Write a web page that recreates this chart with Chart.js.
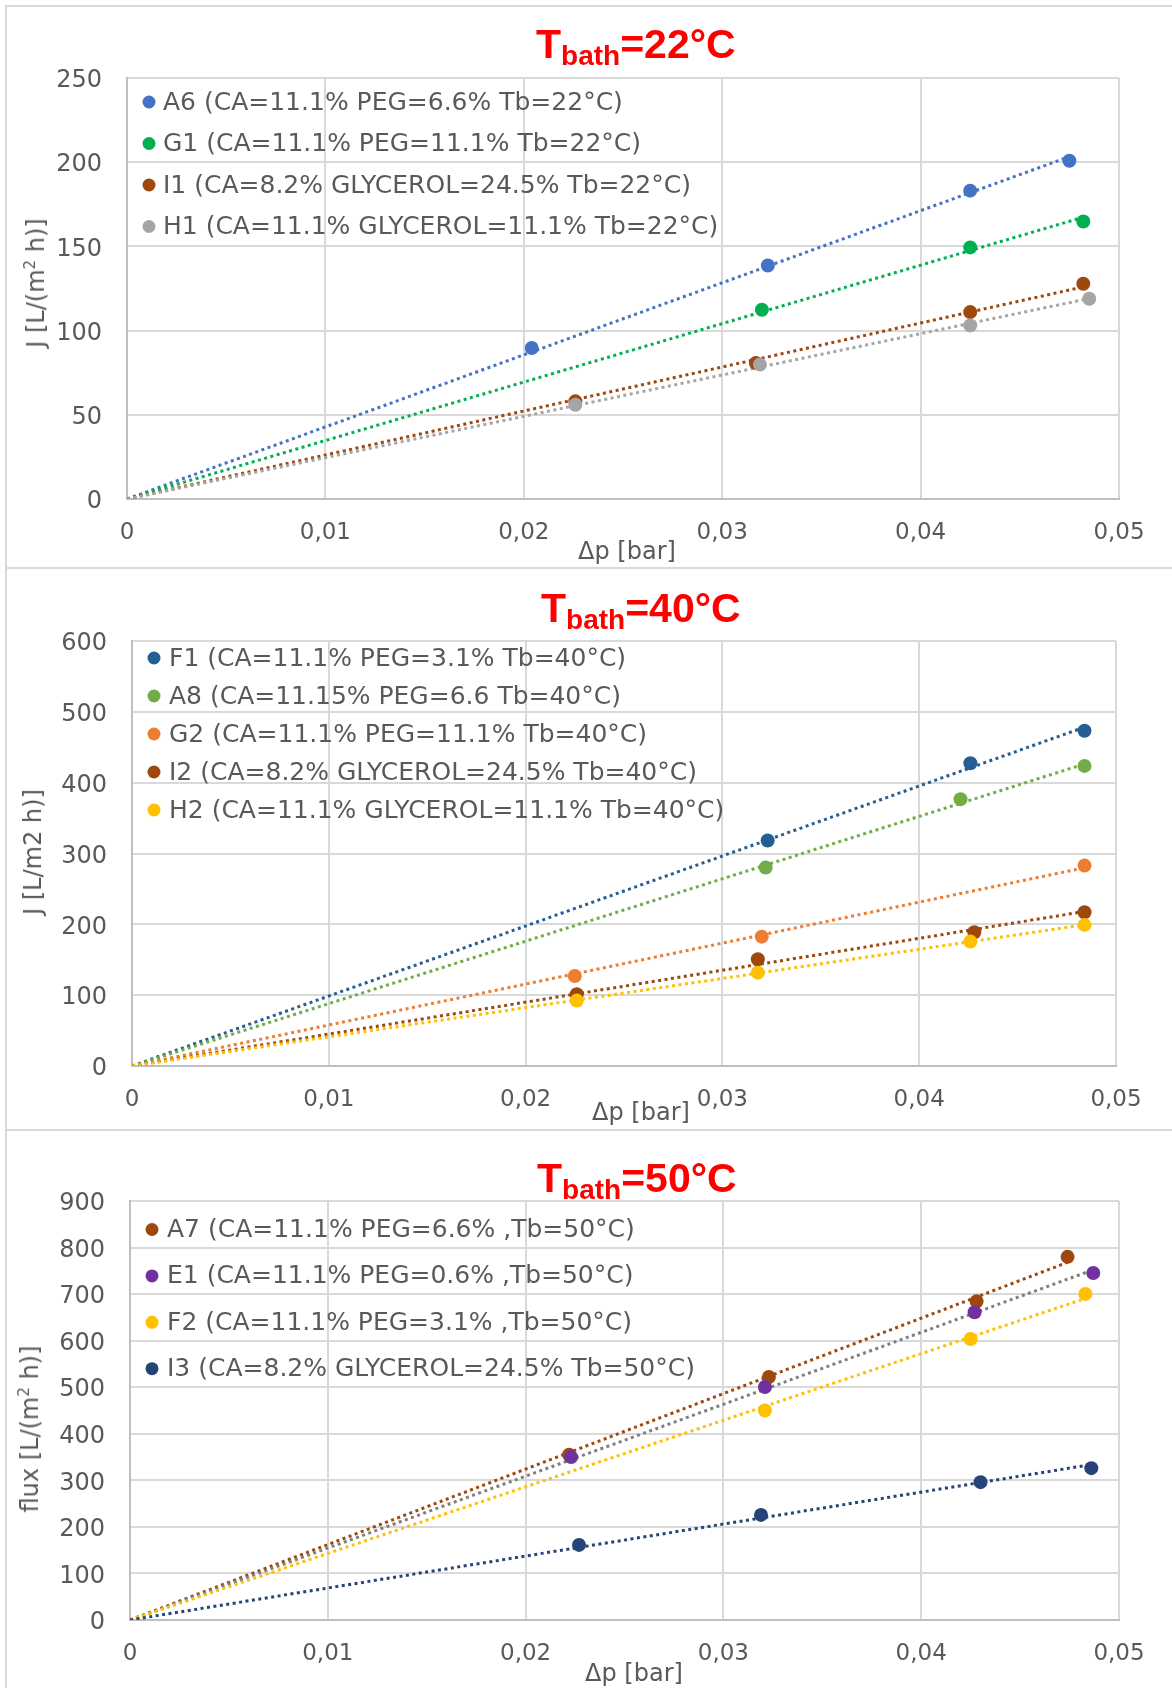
<!DOCTYPE html>
<html lang="en">
<head>
<meta charset="UTF-8">
<title>Flux vs Δp</title>
<script src="https://cdn.jsdelivr.net/npm/chart.js"></script>
<style>
  body { margin: 0; background: #fff; }
  .page { position: relative; width: 1172px; height: 1688px; overflow: hidden;
          font-family: "DejaVu Sans", sans-serif; color: #595959; }
  .page canvas { position: absolute; left: 0; }
  .rule { position: absolute; background: #d9d9d9; }
  .ttl { position: absolute; font-family: "Liberation Sans", Arial, sans-serif; font-weight: bold;
         font-size: 41px; line-height: 40px; color: #ff0000; white-space: nowrap; }
  .ttl span { font-size: 28px; line-height: 0; vertical-align: -7px; }
  .xt, .yt { position: absolute; font-size: 24px; line-height: 24px; white-space: nowrap;
             transform: translate(-50%, -50%); }
  .yt { transform: translate(-50%, -50%) rotate(-90deg); }
  .yt sup { font-size: 15px; line-height: 0; vertical-align: 9px; }
</style>
</head>
<body>
<div class="page">
  <div class="rule" style="left:5px;top:5px;width:1167px;height:2px"></div>
  <div class="rule" style="left:5px;top:5px;width:2px;height:1683px"></div>
  <div class="rule" style="left:5px;top:567px;width:1167px;height:2px"></div>
  <div class="rule" style="left:5px;top:1129px;width:1167px;height:2px"></div>

  <canvas id="c22" width="1172" height="568" style="top:0"></canvas>
  <canvas id="c40" width="1172" height="562" style="top:568px"></canvas>
  <canvas id="c50" width="1172" height="558" style="top:1130px"></canvas>

  <div class="ttl" style="left:536px;top:24px">T<span>bath</span>=22°C</div>
  <div class="ttl" style="left:541px;top:588px">T<span>bath</span>=40°C</div>
  <div class="ttl" style="left:537px;top:1158px">T<span>bath</span>=50°C</div>

  <div class="yt" style="left:36px;top:283px">J [L/(m<sup>2</sup> h)]</div>
  <div class="yt" style="left:33px;top:852px">J [L/m2 h)]</div>
  <div class="yt" style="left:30px;top:1429px">flux [L/(m<sup>2</sup> h)]</div>

  <div class="xt" style="left:627px;top:551px">Δp [bar]</div>
  <div class="xt" style="left:641px;top:1112px">Δp [bar]</div>
  <div class="xt" style="left:634px;top:1673px">Δp [bar]</div>
</div>

<script>
// ---- Tbath = 22°C ----
const labels22 = [
  'A6 (CA=11.1% PEG=6.6% Tb=22°C)',
  'G1 (CA=11.1% PEG=11.1% Tb=22°C)',
  'I1 (CA=8.2% GLYCEROL=24.5% Tb=22°C)',
  'H1 (CA=11.1% GLYCEROL=11.1% Tb=22°C)'
];
const A6_dp = [0.0204, 0.0323, 0.0425, 0.0475];
const A6_J  = [89.7, 138.7, 183.1, 200.9];
const G1_dp = [0.0320, 0.0425, 0.0482];
const G1_J  = [112.4, 149.4, 164.8];
const I1_dp = [0.0226, 0.0317, 0.0425, 0.0482];
const I1_J  = [58.0, 80.8, 111.0, 127.8];
const H1_dp = [0.0226, 0.0319, 0.0425, 0.0485];
const H1_J  = [56.0, 79.8, 103.1, 118.9];
const colors22 = ['#4472c4', '#00b050', '#9e480e', '#a5a5a5'];

// ---- Tbath = 40°C ----
const labels40 = [
  'F1 (CA=11.1% PEG=3.1% Tb=40°C)',
  'A8 (CA=11.15% PEG=6.6 Tb=40°C)',
  'G2 (CA=11.1% PEG=11.1% Tb=40°C)',
  'I2 (CA=8.2% GLYCEROL=24.5% Tb=40°C)',
  'H2 (CA=11.1% GLYCEROL=11.1% Tb=40°C)'
];
const F1_dp = [0.0323, 0.0426, 0.0484];
const F1_J  = [318.3, 427.5, 473.2];
const A8_dp = [0.0322, 0.0421, 0.0484];
const A8_J  = [280.1, 376.7, 423.7];
const G2_dp = [0.0225, 0.0320, 0.0484];
const G2_J  = [127.1, 182.6, 282.9];
const I2_dp = [0.0226, 0.0318, 0.0428, 0.0484];
const I2_J  = [101.2, 150.7, 188.8, 217.1];
const H2_dp = [0.0226, 0.0318, 0.0426, 0.0484];
const H2_J  = [92.3, 131.8, 175.6, 199.2];
const colors40 = ['#255e91', '#70ad47', '#ed7d31', '#9e480e', '#ffc000'];

// ---- Tbath = 50°C ----
const labels50 = [
  'A7 (CA=11.1% PEG=6.6% ,Tb=50°C)',
  'E1 (CA=11.1% PEG=0.6% ,Tb=50°C)',
  'F2 (CA=11.1% PEG=3.1% ,Tb=50°C)',
  'I3 (CA=8.2% GLYCEROL=24.5% Tb=50°C)'
];
const A7_dp = [0.0222, 0.0323, 0.0428, 0.0474];
const A7_J  = [354.8, 521.9, 684.5, 780.0];
const E1_dp = [0.0223, 0.0321, 0.0427, 0.0487];
const E1_J  = [349.9, 500.4, 660.9, 745.5];
const F2_dp = [0.0321, 0.0425, 0.0483];
const F2_J  = [450.1, 603.6, 700.4];
const I3_dp = [0.0227, 0.0319, 0.0430, 0.0486];
const I3_J  = [161.3, 225.8, 296.1, 326.2];
const colors50 = ['#9e480e', '#7030a0', '#ffc000', '#264478'];
const trend50 = ['#9e480e', '#7f7f7f', '#ffc000', '#264478'];

const dpTicks = [0, 0.01, 0.02, 0.03, 0.04, 0.05];

// linear trend forced through the origin, drawn from 0 to the last measured Δp
function originTrend(xs, ys) {
  let sxy = 0, sxx = 0;
  xs.forEach((x, i) => { sxy += x * ys[i]; sxx += x * x; });
  const k = sxy / sxx;
  const xMax = Math.max(...xs);
  return [{ x: 0, y: 0 }, { x: xMax, y: k * xMax }];
}

// legend drawn inside the plot, top-left corner
const floatLegend = {
  id: 'floatLegend',
  beforeDatasetsDraw(chart, args, o) {
    const { ctx, chartArea } = chart;
    ctx.save();
    ctx.font = o.font;
    ctx.textBaseline = 'middle';
    let row = 0;
    chart.data.datasets.forEach(ds => {
      if (!ds.label) return;
      const y = chartArea.top + o.top + row * o.gap;
      const x = chartArea.left + o.left;
      ctx.fillStyle = ds.backgroundColor;
      ctx.beginPath();
      ctx.arc(x, y, o.r, 0, Math.PI * 2);
      ctx.fill();
      ctx.fillStyle = '#595959';
      ctx.fillText(ds.label, x + o.textDx, y + 1);
      row++;
    });
    ctx.restore();
  }
};

function makeChart(id, labels, xs, ys, colors, lineColors, yMax, yStep, box, leg) {
  const datasets = [];
  labels.forEach((lab, i) => {
    datasets.push({
      label: lab,
      data: xs[i].map((x, j) => ({ x: x, y: ys[i][j] })),
      backgroundColor: colors[i],
      borderColor: colors[i],
      pointRadius: 7,
      pointBorderWidth: 0,
      showLine: false,
      order: 20 - i
    });
  });
  labels.forEach((lab, i) => {
    datasets.push({
      data: originTrend(xs[i], ys[i]),
      borderColor: lineColors[i],
      borderWidth: 3,
      borderDash: [3, 3.5],
      pointRadius: 0,
      showLine: true,
      order: 40 - i
    });
  });

  new Chart(document.getElementById(id), {
    type: 'scatter',
    data: { datasets: datasets },
    options: {
      responsive: false,
      animation: false,
      devicePixelRatio: 1,
      layout: { padding: { left: 0, top: box.top, right: box.right, bottom: 0 } },
      plugins: {
        legend: { display: false },
        tooltip: { enabled: false },
        floatLegend: leg
      },
      scales: {
        x: {
          type: 'linear', min: 0, max: 0.05,
          afterBuildTicks: s => { s.ticks = dpTicks.map(v => ({ value: v })); },
          afterFit: s => { s.height = box.xh; },
          grid: { color: '#d9d9d9', lineWidth: 2, drawTicks: false },
          border: { color: '#bfbfbf', width: 2 },
          ticks: {
            color: '#595959', font: { family: 'DejaVu Sans', size: 23 },
            padding: 20, maxRotation: 0, autoSkip: false,
            callback: v => v === 0 ? '0' : v.toFixed(2).replace('.', ',')
          }
        },
        y: {
          min: 0, max: yMax,
          afterFit: s => { s.width = box.yw; },
          grid: { color: '#d9d9d9', lineWidth: 2, drawTicks: false },
          border: { color: '#bfbfbf', width: 2 },
          ticks: {
            stepSize: yStep, color: '#595959',
            font: { family: 'DejaVu Sans', size: 24 }, padding: 25, labelOffset: 3
          }
        }
      }
    },
    plugins: [floatLegend]
  });
}

const legendFont = '25px "DejaVu Sans"';

makeChart('c22', labels22,
  [A6_dp, G1_dp, I1_dp, H1_dp], [A6_J, G1_J, I1_J, H1_J],
  colors22, colors22, 250, 50,
  { top: 78, right: 53, yw: 127, xh: 69 },
  { left: 22, top: 24, gap: 41.5, r: 6.5, textDx: 14, font: legendFont });

makeChart('c40', labels40,
  [F1_dp, A8_dp, G2_dp, I2_dp, H2_dp], [F1_J, A8_J, G2_J, I2_J, H2_J],
  colors40, colors40, 600, 100,
  { top: 73, right: 56, yw: 132, xh: 64 },
  { left: 22, top: 17, gap: 38, r: 6.5, textDx: 15, font: legendFont });

makeChart('c50', labels50,
  [A7_dp, E1_dp, F2_dp, I3_dp], [A7_J, E1_J, F2_J, I3_J],
  colors50, trend50, 900, 100,
  { top: 71, right: 53, yw: 130, xh: 68 },
  { left: 22, top: 28.5, gap: 46.4, r: 6.5, textDx: 15, font: legendFont });
</script>
</body>
</html>
